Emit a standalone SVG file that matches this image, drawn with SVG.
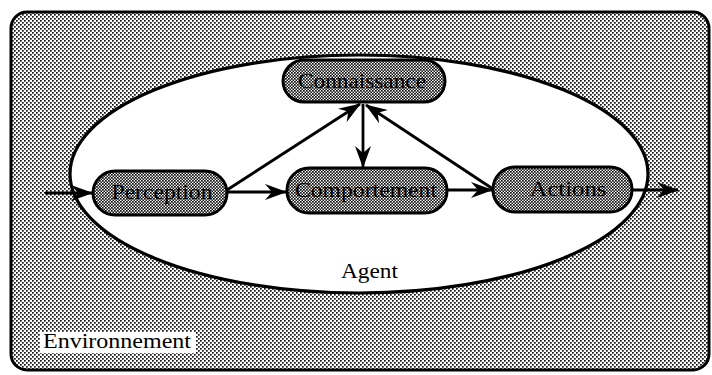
<svg xmlns="http://www.w3.org/2000/svg" width="712" height="375" viewBox="0 0 712 375">
  <defs>
    <!-- halftone screen for the environment -->
    <pattern id="screen" width="4" height="4" patternUnits="userSpaceOnUse">
      <rect width="4" height="4" fill="#fff"/>
      <rect x="0" y="0" width="1.7" height="1.7" fill="#111"/>
      <rect x="2" y="2" width="1.7" height="1.7" fill="#111"/>
    </pattern>
    <!-- denser screen for the modules -->
    <pattern id="screenDark" width="3" height="3" patternUnits="userSpaceOnUse">
      <rect width="3" height="3" fill="#fff"/>
      <rect x="0" y="0" width="1.7" height="1.7" fill="#111"/>
      <rect x="1.5" y="1.5" width="1.7" height="1.7" fill="#111"/>
    </pattern>
    <marker id="head" viewBox="0 0 22 16" refX="21" refY="8" markerWidth="22" markerHeight="16" markerUnits="userSpaceOnUse" orient="auto">
      <path d="M0,0 L22,8 L0,16 L7,8 Z" fill="#000"/>
    </marker>
    <style>
      .frame { fill: url(#screen); stroke: #000; stroke-width: 3; }
      .agent { fill: #fff; stroke: #000; stroke-width: 3.2; }
      .module rect { fill: url(#screenDark); stroke: #000; stroke-width: 3; }
      .module text { font-family: "Liberation Serif", "Times New Roman", serif; font-size: 21px; fill: #000; text-anchor: middle; }
      .label { font-family: "Liberation Serif", "Times New Roman", serif; font-size: 21px; fill: #000; }
      .links path { fill: none; stroke: #000; stroke-width: 2.8; marker-end: url(#head); }
    </style>
  </defs>

  <!-- environment -->
  <g id="environment">
    <rect class="frame" x="11" y="12" width="698" height="358" rx="16"/>
    <rect x="40" y="332" width="156" height="21" fill="#fff"/>
    <text class="label" x="43" y="348" textLength="148" lengthAdjust="spacingAndGlyphs">Environnement</text>
  </g>

  <!-- agent boundary -->
  <g id="agent">
    <ellipse class="agent" cx="359" cy="174" rx="289" ry="119"/>
    <text class="label" x="341" y="278" textLength="57" lengthAdjust="spacingAndGlyphs">Agent</text>
  </g>

  <!-- connectors -->
  <g class="links" id="connectors">
    <path d="M45,193 L92,193"/>
    <path d="M227,192 L286,192"/>
    <path d="M227,190 L360,104"/>
    <path d="M363,104 L363,167"/>
    <path d="M493,189 L366,105"/>
    <path d="M447,190 L492,190"/>
    <path d="M632,190 L678,190"/>
  </g>

  <!-- modules -->
  <g id="connaissance" class="module">
    <rect x="283" y="60" width="162" height="42" rx="21"/>
    <text x="362" y="88" textLength="128" lengthAdjust="spacingAndGlyphs">Connaissance</text>
  </g>
  <g id="perception" class="module">
    <rect x="93" y="171" width="134" height="44" rx="22"/>
    <text x="162" y="199" textLength="101" lengthAdjust="spacingAndGlyphs">Perception</text>
  </g>
  <g id="comportement" class="module">
    <rect x="287" y="168" width="160" height="45" rx="22"/>
    <text x="366" y="197" textLength="142" lengthAdjust="spacingAndGlyphs">Comportement</text>
  </g>
  <g id="actions" class="module">
    <rect x="493" y="167" width="139" height="45" rx="22"/>
    <text x="568" y="196" textLength="77" lengthAdjust="spacingAndGlyphs">Actions</text>
  </g>
</svg>
